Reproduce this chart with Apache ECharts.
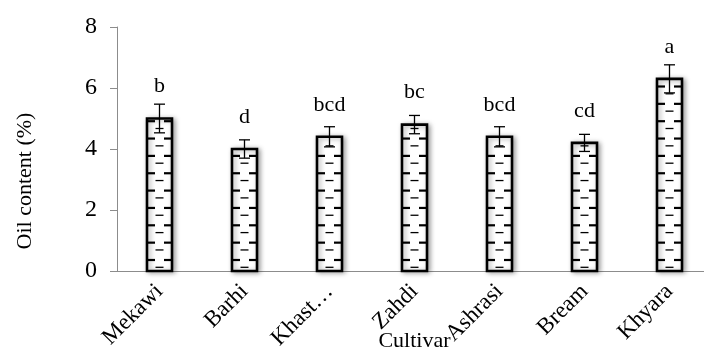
<!DOCTYPE html>
<html>
<head>
<meta charset="utf-8">
<script src="https://cdn.jsdelivr.net/npm/echarts@6/dist/echarts.min.js"></script>
<style>html,body{margin:0;padding:0;background:#fff}#c{width:704px;height:352px}</style>
</head>
<body>
<div id="c"></div>
<script>
var categories = ['Mekawi', 'Barhi', 'Khast…', 'Zahdi', 'Ashrasi', 'Bream', 'Khyara'];
var oilValues = [5.0, 4.0, 4.4, 4.8, 4.4, 4.2, 6.3];
var oilErrors = [0.47, 0.30, 0.33, 0.30, 0.33, 0.28, 0.46];
var letters = ['b', 'd', 'bcd', 'bc', 'bcd', 'cd', 'a'];
var yTicks = [0, 2, 4, 6, 8];

var FONT = "'Liberation Serif', 'Times New Roman', serif";
var chart = echarts.init(document.getElementById('c'), null, {renderer: 'canvas'});

var data = categories.map(function (c, i) { return [i, oilValues[i], oilErrors[i]]; });

function renderBar(params, api) {
  var i = api.value(0), v = api.value(1), e = api.value(2);
  var top = api.coord([i, v]);
  var base = api.coord([i, 0]);
  var cx = top[0];
  var bw = 25;
  var left = cx - bw / 2, right = cx + bw / 2;
  var h = base[1] - top[1];
  var children = [];
  children.push({
    type: 'rect',
    shape: {x: left, y: top[1], width: bw, height: h},
    style: {fill: '#fff', stroke: '#000', lineWidth: 2.6,
      shadowBlur: 5, shadowColor: 'rgba(0,0,0,0.35)', shadowOffsetX: 2, shadowOffsetY: 1}
  });
  var period = 17.35;
  for (var k = 0; k < 40; k++) {
    var om = 3.7 + period * k;
    var oe = 11 + period * k;
    if (om < h - 2) {
      var ym = base[1] - om;
      children.push({type: 'line', shape: {x1: cx - 4, y1: ym, x2: cx + 4, y2: ym},
        style: {stroke: '#000', lineWidth: 1.3}});
    }
    if (oe < h - 2) {
      var ye = base[1] - oe;
      children.push({type: 'line', shape: {x1: left, y1: ye, x2: left + 8, y2: ye},
        style: {stroke: '#000', lineWidth: 2.2}});
      children.push({type: 'line', shape: {x1: right - 8, y1: ye, x2: right, y2: ye},
        style: {stroke: '#000', lineWidth: 2.2}});
    }
  }
  var eTop = api.coord([i, v + e])[1];
  var eBot = api.coord([i, v - e])[1];
  var cap = 5.5;
  children.push({type: 'line', shape: {x1: cx, y1: eTop, x2: cx, y2: eBot}, style: {stroke: '#000', lineWidth: 1.3}});
  children.push({type: 'line', shape: {x1: cx - cap, y1: eTop, x2: cx + cap, y2: eTop}, style: {stroke: '#000', lineWidth: 1.3}});
  children.push({type: 'line', shape: {x1: cx - cap, y1: eBot, x2: cx + cap, y2: eBot}, style: {stroke: '#000', lineWidth: 1.3}});
  children.push({
    type: 'text',
    style: {text: letters[params.dataIndex], x: cx, y: top[1] - 21, align: 'center', verticalAlign: 'bottom',
      font: '22px ' + FONT, fill: '#000'}
  });
  return {type: 'group', children: children};
}

chart.setOption({
  animation: false,
  backgroundColor: '#fff',
  grid: {left: 117, top: 27, bottom: 81, width: 595, containLabel: false, outerBoundsMode: 'none'},
  xAxis: {
    type: 'category',
    data: categories,
    name: 'Cultivar',
    nameLocation: 'middle',
    nameGap: 59,
    nameMoveOverlap: false,
    nameTextStyle: {fontFamily: FONT, fontSize: 22, color: '#000'},
    axisLine: {lineStyle: {color: '#8c8c8c', width: 1}},
    axisTick: {show: false},
    axisLabel: {rotate: 45, interval: 0, margin: 17, fontFamily: FONT, fontSize: 23, color: '#000', hideOverlap: false},
    z: 1
  },
  yAxis: {
    type: 'value',
    min: yTicks[0],
    max: yTicks[yTicks.length - 1],
    interval: yTicks[1] - yTicks[0],
    splitLine: {show: false},
    axisLine: {show: true, lineStyle: {color: '#8c8c8c', width: 1}},
    axisTick: {show: true, length: 7, lineStyle: {color: '#8c8c8c'}},
    axisLabel: {margin: 20, fontFamily: FONT, fontSize: 24, color: '#000'}
  },
  graphic: [{
    type: 'text',
    x: 25, y: 181,
    rotation: Math.PI / 2,
    style: {text: 'Oil content (%)', font: '22px ' + FONT, fill: '#000', align: 'center', verticalAlign: 'middle'}
  }],
  series: [{
    type: 'custom',
    renderItem: renderBar,
    data: data,
    encode: {x: 0, y: 1},
    clip: false
  }]
});
</script>
</body>
</html>
